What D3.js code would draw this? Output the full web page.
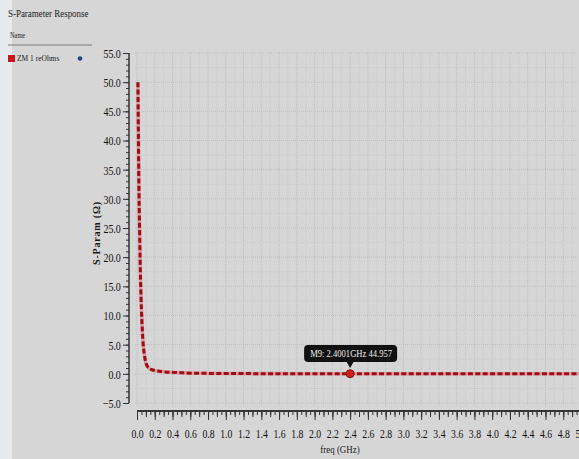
<!DOCTYPE html>
<html>
<head>
<meta charset="utf-8">
<script src="https://cdn.jsdelivr.net/npm/d3@7"></script>
<style>
  body { margin: 0; background: #d6d6d6; }
  svg { display: block; font-family: "Liberation Serif", "DejaVu Serif", serif; }
</style>
</head>
<body>
<svg id="viz" width="579" height="459"></svg>
<script>
// curve points (freq in GHz, S-Param in ohms)
var freqs = [0.01, 0.015, 0.02, 0.03, 0.04, 0.05, 0.06, 0.07, 0.08, 0.09, 0.10, 0.12, 0.14, 0.17, 0.20,
             0.25, 0.30, 0.40, 0.50, 0.60, 0.80, 1.0, 1.5, 2.0, 2.4, 3.0, 3.5, 4.0, 4.5, 5.0];
var sparam = [50, 42, 34, 24, 16, 11, 7.5, 5.0, 3.6, 2.6, 1.9, 1.2, 0.9, 0.7, 0.55,
              0.45, 0.35, 0.25, 0.18, 0.12, 0.08, 0.05, 0.03, 0.02, 0.02, 0.01, 0.01, 0.01, 0.01, 0.01];
var xTicks = d3.range(0, 26).map(function(i){ return i * 0.2; });
var yTicks = [-5, 0, 5, 10, 15, 20, 25, 30, 35, 40, 45, 50, 55];
var marker = {freq: 2.4, value: 0.02, label: "M9: 2.4001GHz 44.957"};
var seriesName = "ZM 1 reOhms";

var svg = d3.select("#viz");

var x = d3.scaleLinear().domain([0, 5]).range([137, 581]);
var y = d3.scaleLinear().domain([-5, 55]).range([403, 53]);

// faint watermark strip on the left edge
svg.append("rect").attr("x", 0).attr("y", 0).attr("width", 12).attr("height", 459).attr("fill", "#e4eaee");

// header + legend
svg.append("text").attr("x", 8).attr("y", 17).attr("font-size", 10.5).attr("fill", "#1a1a1a")
  .attr("transform", "translate(8,0) scale(0.85,1) translate(-8,0)")
  .text("S-Parameter Response");
svg.append("text").attr("x", 10).attr("y", 38).attr("font-size", 7.5).attr("fill", "#222")
  .attr("transform", "translate(10,0) scale(0.85,1) translate(-10,0)").text("Name");
svg.append("line").attr("x1", 8).attr("x2", 92).attr("y1", 45).attr("y2", 45).attr("stroke", "#666").attr("stroke-width", 0.8);
svg.append("rect").attr("x", 8).attr("y", 55).attr("width", 7).attr("height", 7).attr("fill", "#c8141c");
svg.append("text").attr("x", 17).attr("y", 61.5).attr("font-size", 8.5).attr("fill", "#222")
  .attr("transform", "translate(17,0) scale(0.88,1) translate(-17,0)").text(seriesName);
svg.append("circle").attr("cx", 80).attr("cy", 58.5).attr("r", 2.3).attr("fill", "#2c3d85");

// grid
var grid = svg.append("g");
d3.range(0, 51).forEach(function(i){
  var f = i * 0.1, major = i % 2 === 0;
  grid.append("line").attr("x1", x(f)).attr("x2", x(f)).attr("y1", 52).attr("y2", 405)
    .attr("stroke", major ? "#bdbdbd" : "#cacaca").attr("stroke-width", 1)
    .attr("stroke-dasharray", "1,1");
});
d3.range(-5, 56, 2.5).forEach(function(v){
  var major = v % 5 === 0;
  grid.append("line").attr("x1", 135).attr("x2", 579).attr("y1", y(v)).attr("y2", y(v))
    .attr("stroke", major ? "#bdbdbd" : "#cacaca").attr("stroke-width", 1)
    .attr("stroke-dasharray", "1,1");
});

// y axis ruler
var yMinor = svg.append("g").attr("transform", "translate(129,0)")
  .call(d3.axisLeft(y).tickValues(d3.range(-5, 56, 1)).tickSize(3).tickFormat(""));
var yAxis = svg.append("g").attr("transform", "translate(129,0)")
  .call(d3.axisLeft(y).tickValues(yTicks).tickSize(6).tickPadding(5).tickFormat(d3.format(".1f")));
yAxis.selectAll("text").attr("font-size", 13.5).attr("fill", "#111").attr("font-family", "Liberation Serif")
  .attr("transform", "scale(0.74,1)");
[yMinor, yAxis].forEach(function(a){
  a.selectAll("line").attr("stroke", "#333");
  a.select(".domain").attr("stroke", "#333");
});
yMinor.select(".domain").attr("d", "M0," + y(55) + "V" + y(-5));
yAxis.select(".domain").attr("d", "M0," + y(55) + "V" + y(-5));

// x axis ruler
var xMinor = svg.append("g").attr("transform", "translate(0,411)")
  .call(d3.axisBottom(x).tickValues(d3.range(0, 101).map(function(i){ return i * 0.05; })).tickSize(4).tickFormat(""));
var xMid = svg.append("g").attr("transform", "translate(0,411)")
  .call(d3.axisBottom(x).tickValues(d3.range(0, 50).map(function(i){ return i * 0.1 + 0.1; })).tickSize(6).tickFormat(""));
var xAxis = svg.append("g").attr("transform", "translate(0,411)")
  .call(d3.axisBottom(x).tickValues(xTicks).tickSize(9).tickPadding(8).tickFormat(d3.format(".1f")));
xAxis.selectAll("text").attr("font-size", 13.5).attr("fill", "#111").attr("font-family", "Liberation Serif")
  .attr("transform", "scale(0.72,1)");
[xMinor, xMid, xAxis].forEach(function(a){
  a.selectAll("line").attr("stroke", "#333");
  a.select(".domain").attr("stroke", "#333").attr("stroke-width", 1.5).attr("d", "M" + x(0) + ",0H579");
});

// axis titles
svg.append("text").attr("transform", "translate(100,233) rotate(-90)").attr("text-anchor", "middle")
  .attr("font-size", 10).attr("font-weight", "bold").attr("letter-spacing", 0.8).attr("fill", "#1a1a1a")
  .text("S-Param (\u03A9)");
svg.append("text").attr("x", 340).attr("y", 453).attr("text-anchor", "middle")
  .attr("font-size", 10.5).attr("fill", "#1a1a1a")
  .attr("transform", "translate(340,0) scale(0.85,1) translate(-340,0)")
  .text("freq (GHz)");

// series
var pts = freqs.map(function(f, i){ return {f: f, v: sparam[i]}; });
var line = d3.line().curve(d3.curveMonotoneX)
  .x(function(d){ return x(d.f); })
  .y(function(d){ return y(d.v); });
svg.append("path").datum(pts).attr("d", line).attr("fill", "none")
  .attr("stroke", "#dca0a4").attr("stroke-width", 3.6);
svg.append("path").datum(pts).attr("d", line).attr("fill", "none")
  .attr("stroke", "#9e0c14").attr("stroke-width", 3).attr("stroke-dasharray", "5,2.4");

// marker + tooltip
var mx = x(marker.freq), my = y(marker.value);
svg.append("circle").attr("cx", mx).attr("cy", my).attr("r", 4).attr("fill", "#d0201c").attr("stroke", "#7a1010").attr("stroke-width", 1);
svg.append("rect").attr("x", mx - 46).attr("y", 345).attr("width", 93).attr("height", 17).attr("rx", 4)
  .attr("fill", "#111");
svg.append("path").attr("d", "M" + (mx - 4) + ",361L" + mx + ",368L" + (mx + 4) + ",361Z").attr("fill", "#111");
svg.append("text").attr("x", mx + 1).attr("y", 357.5).attr("text-anchor", "middle").attr("fill", "#eee")
  .attr("font-size", 11)
  .attr("transform", "translate(" + (mx + 1) + ",0) scale(0.78,1) translate(" + (-(mx + 1)) + ",0)")
  .text(marker.label);
</script>
</body>
</html>
